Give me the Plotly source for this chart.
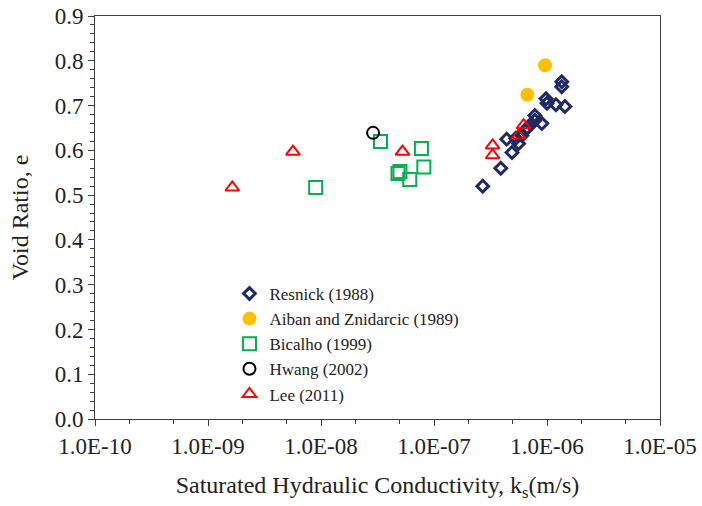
import plotly.graph_objects as go

# Data (k in m/s, e void ratio)
resnick_k = [2.7e-7, 3.9e-7, 4.9e-7, 4.4e-7, 5.6e-7, 6.0e-7, 6.7e-7, 7.2e-7, 7.8e-7, 7.8e-7,
             9.0e-7, 9.8e-7, 1.0e-6, 1.2e-6, 1.44e-6, 1.35e-6, 1.35e-6, 5.3e-7, 6.4e-7]
resnick_e = [0.52, 0.56, 0.595, 0.625, 0.615, 0.633, 0.65, 0.658, 0.678, 0.667,
             0.66, 0.715, 0.705, 0.702, 0.698, 0.753, 0.742, 0.627, 0.645]

aiban_k = [6.7e-7, 9.6e-7]
aiban_e = [0.724, 0.790]

bicalho_k = [8.97e-9, 3.36e-8, 7.74e-8, 8.13e-8, 4.8e-8, 5.0e-8, 6.1e-8]
bicalho_e = [0.517, 0.620, 0.604, 0.563, 0.548, 0.553, 0.535]

hwang_k = [2.89e-8]
hwang_e = [0.639]

lee_k = [1.64e-9, 5.65e-9, 5.26e-8, 3.3e-7, 3.3e-7, 5.6e-7, 6.2e-7]
lee_e = [0.517, 0.597, 0.597, 0.611, 0.589, 0.633, 0.656]

x_tickvals = [1e-10, 1e-9, 1e-8, 1e-7, 1e-6, 1e-5]
x_ticktext = ["1.0E-10", "1.0E-09", "1.0E-08", "1.0E-07", "1.0E-06", "1.0E-05"]
y_tickvals = [0.0, 0.1, 0.2, 0.3, 0.4, 0.5, 0.6, 0.7, 0.8, 0.9]
y_ticktext = ["0.0", "0.1", "0.2", "0.3", "0.4", "0.5", "0.6", "0.7", "0.8", "0.9"]

FONT = "Times New Roman, Liberation Serif, serif"
AX = "#404040"

fig = go.Figure()
fig.add_trace(go.Scatter(x=resnick_k, y=resnick_e, mode="markers", name="Resnick (1988)",
                         legendgroup="a",
                         marker=dict(symbol="diamond-open", size=9, color="#1F2A63",
                                     line=dict(width=3, color="#1F2A63"))))
fig.add_trace(go.Scatter(x=aiban_k, y=aiban_e, mode="markers", name="Aiban and Znidarcic (1989)",
                         legendgroup="b",
                         marker=dict(symbol="circle", size=14, color="#FFC000",
                                     line=dict(width=0))))
fig.add_trace(go.Scatter(x=bicalho_k, y=bicalho_e, mode="markers", name="Bicalho (1999)",
                         legendgroup="c",
                         marker=dict(symbol="square-open", size=13, color="#00B050",
                                     line=dict(width=2, color="#00B050"))))
fig.add_trace(go.Scatter(x=hwang_k, y=hwang_e, mode="markers", name="Hwang (2002)",
                         legendgroup="d",
                         marker=dict(symbol="circle-open", size=12, color="#000000",
                                     line=dict(width=2, color="#000000"))))
fig.add_trace(go.Scatter(x=lee_k, y=lee_e, mode="markers", name="Lee (2011)",
                         legendgroup="e",
                         marker=dict(symbol="triangle-up-open", size=12, color="#FF0000",
                                     line=dict(width=2, color="#FF0000"))))

fig.update_layout(
    width=702, height=506,
    margin=dict(l=95, r=42, t=16, b=87),
    paper_bgcolor="white", plot_bgcolor="white",
    font=dict(family=FONT, size=22, color="#222222"),
    showlegend=True,
    legend=dict(x=0.238, y=0.355, xanchor="left", yanchor="top",
                font=dict(family=FONT, size=17, color="#222222"),
                bgcolor="rgba(0,0,0,0)", tracegroupgap=0, itemwidth=30),
    xaxis=dict(type="log", range=[-10, -5], tickvals=x_tickvals, ticktext=x_ticktext,
               automargin=False, ticklabeloverflow="allow",
               ticks="outside", ticklen=6, tickwidth=1, tickcolor=AX,
               showline=True, linecolor=AX, linewidth=1, mirror=True,
               showgrid=False, zeroline=False,
               minor=dict(ticks="outside", ticklen=4, tickcolor=AX, showgrid=False),
               title=dict(text="Saturated Hydraulic Conductivity, k<sub>s</sub>(m/s)",
                          font=dict(family=FONT, size=24), standoff=18),
               tickfont=dict(family=FONT, size=23)),
    yaxis=dict(range=[0, 0.9], tickvals=y_tickvals, ticktext=y_ticktext,
               automargin=False, ticklabeloverflow="allow",
               ticks="outside", ticklen=6, tickwidth=1, tickcolor=AX,
               showline=True, linecolor=AX, linewidth=1, mirror=True,
               showgrid=False, zeroline=False,
               minor=dict(ticks="outside", ticklen=4, dtick=0.02, tick0=0,
                          tickcolor=AX, showgrid=False),
               title=dict(text="Void Ratio, e", font=dict(family=FONT, size=24), standoff=19),
               tickfont=dict(family=FONT, size=23)),
)

fig.write_html("out.html", config={"displayModeBar": False},
               post_script="document.body.style.margin='0px';document.body.style.overflow='hidden';")
